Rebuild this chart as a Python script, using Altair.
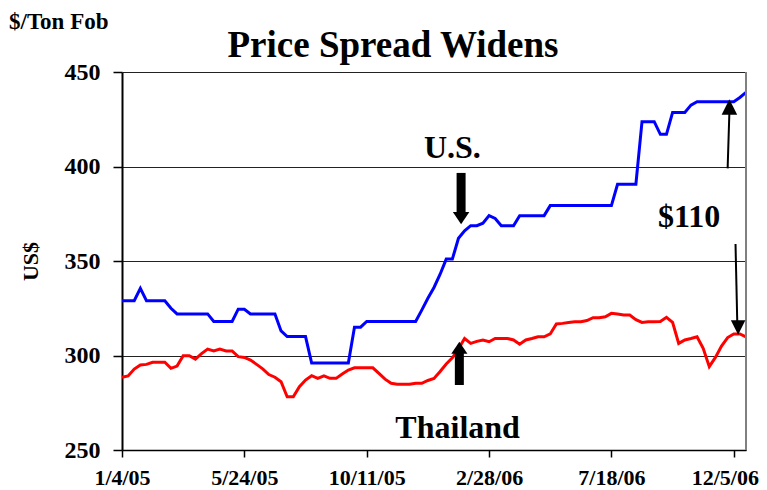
import altair as alt
import pandas as pd

# ---- data (weekly export prices, $/ton FOB) ----
START = "2005-01-04"
us_price = [329, 329, 329, 335.5, 329, 329, 329, 329, 325,
            322, 322, 322, 322, 322, 322,
            318, 318, 318, 318, 324.5, 324.5,
            322, 322, 322, 322, 322, 313, 310, 310, 310, 310,
            296, 296, 296, 296, 296, 296, 296, 315, 315,
            318, 318, 318, 318, 318, 318, 318, 318, 318,
            324, 330.3, 336, 343, 351, 351, 362, 366, 368.7, 368.7, 370, 374, 372.5,
            368.7, 368.7, 368.7, 374, 374, 374, 374, 374,
            379.3, 379.3, 379.3, 379.3, 379.3, 379.3, 379.3, 379.3, 379.3, 379.3, 379.3,
            390.6, 390.6, 390.6, 390.6, 423.7, 423.7, 423.7, 417, 417,
            428.6, 428.6, 428.6, 432.5, 434.3, 434.3, 434.3, 434.3, 434.3, 434.3, 434.3,
            436.5, 439.2]
thai_price = [288.5, 289.2, 292.8, 295, 295.3, 296.4, 296.4, 296.4, 293.2, 294.4,
              299.9, 299.9, 298.1, 301, 303.4, 302.4, 303.4, 302.4, 302.4, 299.4,
              299, 297.6, 295.3, 292.9, 289.9, 288.5, 286.1, 278.2, 278.2, 283.5,
              287, 289.3, 287.9, 289.2, 287.9, 287.9, 290.2, 292.3, 293.5, 293.5,
              293.5, 293.5, 290.5, 287.5, 285.3, 284.8, 284.8, 284.8, 285.3, 285.3,
              286.8, 287.8, 291.5, 295.5, 298.8, 303.5, 309, 306.4, 307.5, 308.2,
              307.3, 309, 309, 309, 308.2, 306, 308.2, 309, 309.9, 309.9,
              311.4, 316.7, 317, 317.5, 317.9, 317.9, 318.5, 320, 320, 320.5,
              322.3, 322, 321.4, 321.4, 319, 317.5, 317.9, 317.9, 318, 320.2,
              317.5, 306.4, 308.2, 309, 309.9, 303.8, 294.1, 299, 305, 309.5,
              311.4, 311.4, 309.9]

series_names = ["U.S.", "Thailand"]
series_colors = ["#0000FF", "#FF0000"]
tick_dates = [(2005, 1, 4), (2005, 5, 24), (2005, 10, 11), (2006, 2, 28), (2006, 7, 18), (2006, 12, 5)]
y_ticks = [250, 300, 350, 400, 450]

# annotations
label_text = ["U.S.", "Thailand", "$110"]
label_date = ["2006-01-17", "2006-01-23", "2006-10-15"]
label_value = [404.5, 256.1, 368.1]

thick_date = ["2006-01-27", "2006-01-25"]
thick_from = [396.6, 284.4]
thick_to = [374.9, 302.4]
thin_date = ["2006-11-28", "2006-12-07"]
thin_date2 = ["2006-11-30", "2006-12-09"]
thin_from = [399.0, 359.0]
thin_to = [428.8, 317.7]

dates = pd.date_range(START, periods=len(us_price), freq="7D").strftime("%Y-%m-%d").tolist()
df = pd.DataFrame({
    "date": dates * 2,
    "price": us_price + thai_price,
    "series": [series_names[0]] * len(us_price) + [series_names[1]] * len(thai_price),
})

FONT = "Liberation Serif"
x_dom = [alt.DateTime(year=2005, month=1, date=4, utc=True),
         alt.DateTime(year=2006, month=12, date=19, utc=True)]
xscale = alt.Scale(type="utc", domain=x_dom, nice=False)
yscale = alt.Scale(domain=[250, 450], nice=False, zero=False)

x_axis = alt.Axis(
    values=[alt.DateTime(year=y, month=m, date=d, utc=True) for (y, m, d) in tick_dates],
    labelExpr="utcFormat(datum.value, '%-m/%-d/%y')", grid=False, title=None,
    tickSize=7, tickColor="black", tickWidth=1.5, domainColor="black", domainWidth=1.5,
    labelFont=FONT, labelFontWeight="bold", labelFontSize=22, labelColor="black",
    labelPadding=10, labelBaseline="top", labelFlush=False, labelOverlap=False,
    labelOffset={"condition": {"test": "datum.value > 1160000000000", "value": -9}, "value": 0},
)
y_axis = alt.Axis(
    values=y_ticks, tickSize=9, tickColor="black", tickWidth=1.5,
    domainColor="black", domainWidth=2, grid=True, gridColor="#222222", gridWidth=1,
    labelFont=FONT, labelFontWeight="bold", labelFontSize=24, labelColor="black",
    labelPadding=13, title="US$", titleFont=FONT, titleFontWeight="bold", titleFontSize=22,
    titleColor="black", titleAngle=270, titleX=-92, titleY=189, titleAlign="center",
    titleBaseline="middle",
)

lines = alt.Chart(df).mark_line(strokeWidth=3).encode(
    x=alt.X("date:T", scale=xscale, axis=x_axis),
    y=alt.Y("price:Q", scale=yscale, axis=y_axis),
    color=alt.Color("series:N", scale=alt.Scale(domain=series_names, range=series_colors), legend=None),
)

border = alt.Chart(pd.DataFrame({"date": [dates[-1]]})).mark_rule(color="#808080", strokeWidth=2).encode(
    x=alt.X("date:T", scale=xscale),
)

labels = alt.Chart(pd.DataFrame({"t": label_text, "date": label_date, "v": label_value})).mark_text(
    font=FONT, fontWeight="bold", fontSize=32, color="black", align="center", baseline="alphabetic"
).encode(x=alt.X("date:T", scale=xscale), y=alt.Y("v:Q", scale=yscale), text="t:N")

thick = alt.Chart(pd.DataFrame({"date": thick_date, "a": thick_from, "b": thick_to})).mark_rule(
    color="black", strokeWidth=9, strokeCap="butt"
).encode(x=alt.X("date:T", scale=xscale), y=alt.Y("a:Q", scale=yscale), y2="b:Q")

head_down = alt.Chart(pd.DataFrame({"date": [thick_date[0]], "v": [372.7]})).mark_point(
    shape="M-1,-0.75L1,-0.75L0,0.75Z", filled=True, color="black", opacity=1, size=272, strokeWidth=0
).encode(x=alt.X("date:T", scale=xscale), y=alt.Y("v:Q", scale=yscale))
head_up = alt.Chart(pd.DataFrame({"date": [thick_date[1]], "v": [304.1]})).mark_point(
    shape="M-1,0.75L1,0.75L0,-0.75Z", filled=True, color="black", opacity=1, size=262, strokeWidth=0
).encode(x=alt.X("date:T", scale=xscale), y=alt.Y("v:Q", scale=yscale))

thin = alt.Chart(pd.DataFrame({"d1": thin_date, "d2": thin_date2, "a": thin_from, "b": thin_to})).mark_rule(
    color="black", strokeWidth=2
).encode(x=alt.X("d1:T", scale=xscale), x2="d2:T", y=alt.Y("a:Q", scale=yscale), y2="b:Q")

thin_up = alt.Chart(pd.DataFrame({"date": ["2006-11-30"], "v": [431.5]})).mark_point(
    shape="M-1,1L1,1L0,-1Z", filled=True, color="black", opacity=1, size=243, strokeWidth=0
).encode(x=alt.X("date:T", scale=xscale), y=alt.Y("v:Q", scale=yscale))
thin_down = alt.Chart(pd.DataFrame({"date": ["2006-12-10"], "v": [314.8]})).mark_point(
    shape="M-1,-1L1,-1L0,1Z", filled=True, color="black", opacity=1, size=210, strokeWidth=0
).encode(x=alt.X("date:T", scale=xscale), y=alt.Y("v:Q", scale=yscale))

title = alt.Chart(pd.DataFrame({"t": ["Price Spread Widens"]})).mark_text(
    font=FONT, fontWeight="bold", fontSize=37, color="black", align="center", baseline="alphabetic"
).encode(text="t:N", x=alt.value(271), y=alt.value(-15))
unit = alt.Chart(pd.DataFrame({"t": ["$/Ton Fob"]})).mark_text(
    font=FONT, fontWeight="bold", fontSize=23, color="black", align="left", baseline="alphabetic"
).encode(text="t:N", x=alt.value(-113), y=alt.value(-43))

chart = alt.layer(lines, border, thick, head_down, head_up, thin, thin_up, thin_down, labels, title, unit).properties(
    width=624, height=378,
    padding={"left": 114, "top": 64, "right": 13, "bottom": 40},
    autosize=alt.AutoSizeParams(type="none"),
    background="white",
).configure_view(stroke=None)

chart.save("out.html", embed_options={"renderer": "svg", "actions": False})
